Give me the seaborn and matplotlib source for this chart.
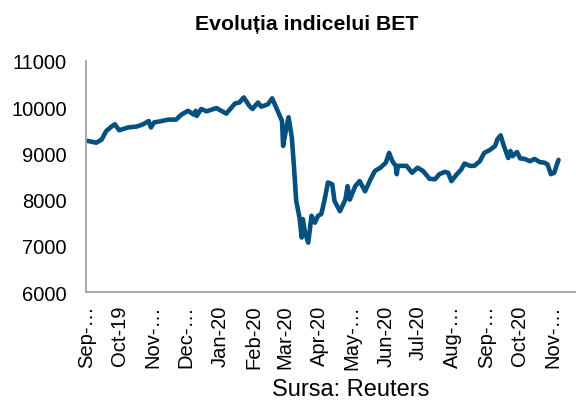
import matplotlib
matplotlib.use("Agg")
import matplotlib.pyplot as plt
import pandas as pd
import seaborn as sns

# BET index
dates = [
    "2019-09-02", "2019-09-10", "2019-09-15", "2019-09-19", "2019-09-24", "2019-09-27",
    "2019-10-01", "2019-10-05", "2019-10-09", "2019-10-17", "2019-10-23", "2019-10-28",
    "2019-10-30", "2019-11-02", "2019-11-09", "2019-11-15", "2019-11-22", "2019-11-27",
    "2019-12-03", "2019-12-08", "2019-12-10", "2019-12-11", "2019-12-15", "2019-12-20",
    "2019-12-29", "2020-01-07", "2020-01-15", "2020-01-19", "2020-01-23", "2020-01-28",
    "2020-01-31", "2020-02-05", "2020-02-08", "2020-02-14", "2020-02-18", "2020-02-23",
    "2020-02-27", "2020-02-28", "2020-03-02", "2020-03-04", "2020-03-07", "2020-03-09",
    "2020-03-11", "2020-03-14", "2020-03-16", "2020-03-17", "2020-03-19", "2020-03-22",
    "2020-03-25", "2020-03-28", "2020-03-31", "2020-04-03", "2020-04-06", "2020-04-09",
    "2020-04-13", "2020-04-15", "2020-04-20", "2020-04-25", "2020-04-27", "2020-04-29",
    "2020-05-04", "2020-05-08", "2020-05-13", "2020-05-18", "2020-05-22", "2020-05-27",
    "2020-06-01", "2020-06-04", "2020-06-07", "2020-06-10", "2020-06-11", "2020-06-12",
    "2020-06-16", "2020-06-20", "2020-06-25", "2020-06-30", "2020-07-05", "2020-07-11",
    "2020-07-16", "2020-07-20", "2020-07-25", "2020-07-28", "2020-07-31", "2020-08-05",
    "2020-08-09", "2020-08-12", "2020-08-17", "2020-08-21", "2020-08-26", "2020-08-30",
    "2020-09-04", "2020-09-09", "2020-09-11", "2020-09-14", "2020-09-17", "2020-09-21",
    "2020-09-23", "2020-09-25", "2020-09-29", "2020-10-02", "2020-10-06", "2020-10-11",
    "2020-10-15", "2020-10-20", "2020-10-24", "2020-10-27", "2020-10-30", "2020-11-02",
    "2020-11-06",
]
bet = [
    9270, 9230, 9300, 9480, 9580, 9630,
    9500, 9530, 9560, 9580, 9630, 9700,
    9560, 9670, 9700, 9730, 9730, 9840,
    9920, 9840, 9920, 9810, 9960, 9910,
    9980, 9860, 10080, 10100, 10210, 10030,
    9960, 10100, 10010, 10060, 10190, 9920,
    9700, 9160, 9560, 9780, 9340, 8690,
    7970, 7610, 7180, 7580, 7290, 7070,
    7650, 7500, 7650, 7690, 8000, 8370,
    8330, 7970, 7750, 8000, 8290, 8000,
    8290, 8400, 8180, 8440, 8620, 8690,
    8800, 9010, 8830, 8730, 8550, 8730,
    8730, 8730, 8580, 8690, 8620, 8450,
    8440, 8550, 8600, 8580, 8400, 8550,
    8650, 8780, 8730, 8730, 8830, 9010,
    9070, 9160, 9300, 9390, 9160, 8900,
    9050, 8940, 9030, 8890, 8880, 8830,
    8880, 8810, 8800, 8760, 8550, 8580,
    8860,
]

tick_dates = ["2019-09-01", "2019-10-01", "2019-11-01", "2019-12-01", "2020-01-01",
              "2020-02-01", "2020-03-01", "2020-04-01", "2020-05-01", "2020-06-01",
              "2020-07-01", "2020-08-01", "2020-09-01", "2020-10-01", "2020-11-01"]
tick_labels = ["Sep-\u2026", "Oct-19", "Nov-\u2026", "Dec-\u2026", "Jan-20", "Feb-20",
               "Mar-20", "Apr-20", "May-\u2026", "Jun-20", "Jul-20", "Aug-\u2026",
               "Sep-\u2026", "Oct-20", "Nov-\u2026"]
y_ticks = [6000, 7000, 8000, 9000, 10000, 11000]

sns.set_style("white")
plt.rcParams['font.family'] = ['Liberation Sans', 'DejaVu Sans']
plt.rcParams['text.color'] = 'black'
plt.rcParams['xtick.labelcolor'] = 'black'
plt.rcParams['ytick.labelcolor'] = 'black'

df = pd.DataFrame({"data": pd.to_datetime(dates), "BET": bet})

fig = plt.figure(figsize=(5.76, 4.02), dpi=100)
ax = fig.add_axes([0.150, 0.271, 0.85, 0.575])

sns.lineplot(data=df, x="data", y="BET", color="#05507f", linewidth=3.3, ax=ax)

ax.set_xlim(pd.Timestamp("2019-09-01"), pd.Timestamp("2020-11-22"))
ax.set_ylim(6000, 11000)
ax.set_yticks(y_ticks)
ax.set_yticklabels([str(v) for v in y_ticks], fontsize=14.5, color="black")
ax.set_xticks(pd.to_datetime(tick_dates))
ax.set_xticklabels(tick_labels, rotation=90, fontsize=14.5, va="top", ha="center",
                   color="black")

for side in ["top", "right"]:
    ax.spines[side].set_visible(False)
for side in ["left", "bottom"]:
    ax.spines[side].set_color("#a0a0a0")
    ax.spines[side].set_linewidth(1.3)
ax.tick_params(axis="both", direction="out", length=5, width=1.3, color="#a0a0a0")
ax.tick_params(axis="x", pad=4)
ax.tick_params(axis="y", pad=9)
ax.set_xlabel("")
ax.set_ylabel("")

fig.text(0.533, 0.94, "Evoluția indicelui BET", fontsize=15.3, fontweight="bold",
         ha="center", va="center", color="black")
fig.text(0.608, 0.03, "Sursa: Reuters", fontsize=17, ha="center", va="center",
         color="black")

plt.savefig("out.png", dpi=100)
